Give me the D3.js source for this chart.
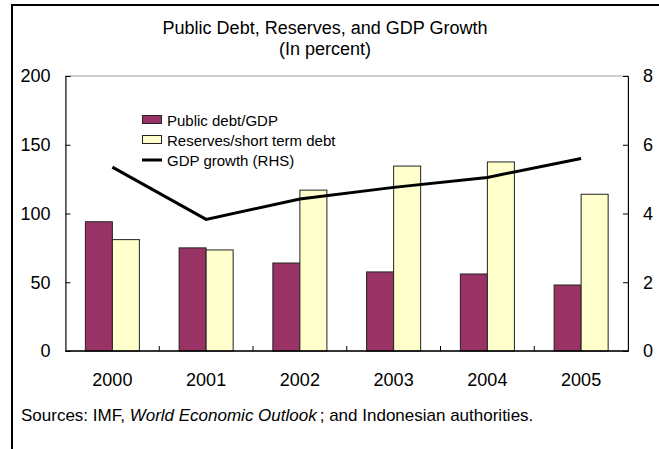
<!DOCTYPE html>
<html>
<head>
<meta charset="utf-8">
<script src="https://cdn.jsdelivr.net/npm/d3@7"></script>
<style>
  html, body { margin: 0; padding: 0; background: #fff; }
  svg { display: block; }
  text { font-family: Arial, "Liberation Sans", sans-serif; fill: #000; }
</style>
</head>
<body>
<svg id="chart" width="659" height="449"></svg>
<script>
// Categories and series
const years = ["2000", "2001", "2002", "2003", "2004", "2005"];
const publicDebt = [94, 75, 64, 57.5, 56, 48];          // percent of GDP (left axis)
const reserves = [81, 73.5, 117, 134.5, 137.5, 114];    // reserves / short-term debt (left axis)
const gdpGrowth = [5.35, 3.83, 4.42, 4.76, 5.05, 5.6];  // GDP growth, percent (right axis)

const leftTicks = [0, 50, 100, 150, 200];
const rightTicks = [0, 2, 4, 6, 8];

const seriesNames = ["Public debt/GDP", "Reserves/short term debt"];
const seriesColors = ["#993366", "#FFFFCC"];

const svg = d3.select("#chart");
const W = 659, H = 449;
const plot = { left: 65.5, right: 628, top: 76, bottom: 351 };

// Outer frame
svg.append("rect")
  .attr("x", 12).attr("y", 5)
  .attr("width", W + 20).attr("height", H + 20)
  .attr("fill", "#fff").attr("stroke", "#000").attr("stroke-width", 2);

// Title
svg.append("text").attr("x", 325).attr("y", 34)
  .attr("text-anchor", "middle").style("font-size", "18px")
  .text("Public Debt, Reserves, and GDP Growth");
svg.append("text").attr("x", 325).attr("y", 55)
  .attr("text-anchor", "middle").style("font-size", "18px")
  .text("(In percent)");

// Scales
const x0 = d3.scaleBand().domain(years).range([plot.left, plot.right]).padding(0);
const x1 = d3.scaleBand().domain(seriesNames).range([0, x0.bandwidth()])
  .paddingInner(0).paddingOuter(0.735);
const yL = d3.scaleLinear().domain([0, 200]).range([plot.bottom, plot.top]);
const yR = d3.scaleLinear().domain([0, 8]).range([plot.bottom, plot.top]);

// Plot area border
svg.append("rect")
  .attr("x", plot.left).attr("y", plot.top)
  .attr("width", plot.right - plot.left).attr("height", plot.bottom - plot.top)
  .attr("fill", "none").attr("stroke", "#a0a0a0").attr("stroke-width", 1);

// Bars
const seriesData = [publicDebt, reserves];
seriesData.forEach((vals, si) => {
  svg.append("g").selectAll("rect")
    .data(vals)
    .join("rect")
    .attr("x", (d, i) => x0(years[i]) + x1(seriesNames[si]))
    .attr("y", d => yL(d))
    .attr("width", x1.bandwidth())
    .attr("height", d => yL(0) - yL(d))
    .attr("fill", seriesColors[si])
    .attr("stroke", "#222")
    .attr("stroke-width", 1);
});

// Left axis
const axL = svg.append("g").attr("transform", `translate(${plot.left},0)`)
  .call(d3.axisLeft(yL).tickValues(leftTicks).tickSize(-5).tickPadding(15));
axL.select(".domain").attr("stroke", "#000");
axL.selectAll("text").style("font-size", "18px").attr("font-family", null);

// Right axis
const axR = svg.append("g").attr("transform", `translate(${plot.right},0)`)
  .call(d3.axisRight(yR).tickValues(rightTicks).tickSize(-5).tickPadding(15));
axR.selectAll("text").style("font-size", "18px").attr("font-family", null);

// Bottom axis: baseline with ticks at category boundaries
svg.append("line")
  .attr("x1", plot.left).attr("x2", plot.right)
  .attr("y1", plot.bottom).attr("y2", plot.bottom)
  .attr("stroke", "#000").attr("stroke-width", 1.5);
svg.append("g").selectAll("line")
  .data(years.slice(1))
  .join("line")
  .attr("x1", d => x0(d)).attr("x2", d => x0(d))
  .attr("y1", plot.bottom).attr("y2", plot.bottom - 5)
  .attr("stroke", "#000");
svg.append("g").selectAll("text")
  .data(years)
  .join("text")
  .attr("x", d => x0(d) + x0.bandwidth() / 2)
  .attr("y", 385.5)
  .attr("text-anchor", "middle")
  .style("font-size", "18px")
  .text(d => d);

// GDP growth line (right axis)
const line = d3.line()
  .x((d, i) => x0(years[i]) + x0.bandwidth() / 2)
  .y(d => yR(d));
svg.append("path")
  .datum(gdpGrowth)
  .attr("d", line)
  .attr("fill", "none")
  .attr("stroke", "#000")
  .attr("stroke-width", 3);

// Legend
const legend = svg.append("g");
const lgY = [120, 140, 160];
seriesNames.forEach((name, i) => {
  legend.append("rect")
    .attr("x", 142.5).attr("y", lgY[i] - 4.5)
    .attr("width", 19).attr("height", 8)
    .attr("fill", seriesColors[i]).attr("stroke", "#222");
  legend.append("text")
    .attr("x", 167).attr("y", lgY[i] + 5.5)
    .style("font-size", "15px").text(name);
});
legend.append("line")
  .attr("x1", 142).attr("x2", 162)
  .attr("y1", lgY[2]).attr("y2", lgY[2])
  .attr("stroke", "#000").attr("stroke-width", 3);
legend.append("text")
  .attr("x", 167).attr("y", lgY[2] + 5.5)
  .style("font-size", "15px").text("GDP growth (RHS)");

// Source note
const src = svg.append("text").attr("x", 21).attr("y", 421).style("font-size", "17px");
src.append("tspan").text("Sources: IMF, ");
src.append("tspan").style("font-style", "italic").text("World Economic Outlook");
src.append("tspan").attr("dx", 3).text("; and Indonesian authorities.");
</script>
</body>
</html>
